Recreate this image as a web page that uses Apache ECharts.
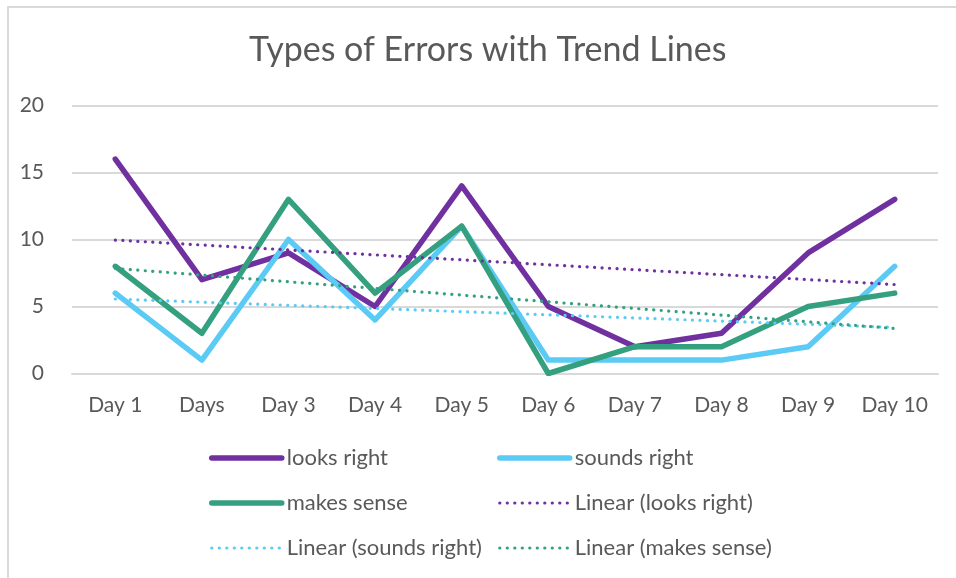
<!DOCTYPE html>
<html>
<head>
<meta charset="utf-8">
<script src="https://cdn.jsdelivr.net/npm/echarts@6/dist/echarts.min.js"></script>
<style>
html,body{margin:0;padding:0;background:#fff;}
#chart{width:956px;height:578px;}
</style>
</head>
<body>
<div id="chart"></div>
<script>
const categories = ['Day 1', 'Days', 'Day 3', 'Day 4', 'Day 5', 'Day 6', 'Day 7', 'Day 8', 'Day 9', 'Day 10'];
const looksRight = [16, 7, 9, 5, 14, 5, 2, 3, 9, 13];
const soundsRight = [6, 1, 10, 4, 11, 1, 1, 1, 2, 8];
const makesSense = [8, 3, 13, 6, 11, 0, 2, 2, 5, 6];
// trend line end points (Day 1, Day 10)
const trendLooksRight = [9.96, 6.64];
const trendSoundsRight = [5.56, 3.44];
const trendMakesSense = [7.84, 3.36];
const yTicks = [0, 5, 10, 15, 20];

const cPurple = '#7030A0', cBlue = '#5BCBF5', cGreen = '#34A07F';
const font = 'Lato, "Open Sans", "Liberation Sans", sans-serif';
const txt = '#595959';
const solidW = 5.5, dotW = 3.2, dotPattern = [0.1, 7.4];

function trendData(pair) {
  return [[categories[0], pair[0]], [categories[categories.length - 1], pair[1]]];
}
function solid(name, data, color) {
  return { name, type: 'line', data, symbol: 'none', color,
    lineStyle: { color, width: solidW, cap: 'round', join: 'round' } };
}
function dotted(name, data, color) {
  return { name, type: 'line', data, symbol: 'none', color,
    lineStyle: { color, width: dotW, type: dotPattern, cap: 'round' } };
}
function legItem(name, color, isDot) {
  return { name, itemStyle: { opacity: 0 },
    lineStyle: isDot ? { color, width: dotW, type: dotPattern, cap: 'round' }
                     : { color, width: solidW, cap: 'round' } };
}
const legendText = { fontFamily: font, fontSize: 22, color: txt, lineHeight: 24 };

const chart = echarts.init(document.getElementById('chart'), null, { renderer: 'canvas' });
chart.setOption({
  animation: false,
  backgroundColor: '#fff',
  graphic: [{ type: 'rect', shape: { x: 8, y: 7, width: 1000, height: 1000 },
    style: { fill: 'none', stroke: '#d9d9d9', lineWidth: 2 }, silent: true, z: -10 }],
  title: { text: 'Types of Errors with Trend Lines', left: 249, top: 33, padding: 0,
    textStyle: { fontFamily: font, fontSize: 34, fontWeight: 'normal', color: txt } },
  grid: { left: 72, right: 18, top: 105.5, bottom: 204.5, containLabel: false },
  legend: [
    { orient: 'vertical', left: 209, top: 446, padding: 0, itemWidth: 70, itemHeight: 24, itemGap: 21,
      itemStyle: { opacity: 0 },
      data: [legItem('looks right', cPurple), legItem('makes sense', cGreen), legItem('Linear (sounds right)', cBlue, true)],
      textStyle: legendText },
    { orient: 'vertical', left: 497, top: 446, padding: 0, itemWidth: 70, itemHeight: 24, itemGap: 21,
      itemStyle: { opacity: 0 },
      data: [legItem('sounds right', cBlue), legItem('Linear (looks right)', cPurple, true), legItem('Linear (makes sense)', cGreen, true)],
      textStyle: legendText }
  ],
  xAxis: { type: 'category', data: categories, boundaryGap: true,
    axisLine: { lineStyle: { color: '#d9d9d9', width: 2 } }, axisTick: { show: false },
    axisLabel: { fontFamily: font, fontSize: 21, color: txt, margin: 21, interval: 0 } },
  yAxis: { type: 'value', min: yTicks[0], max: yTicks[yTicks.length - 1], interval: 5,
    axisLine: { show: false }, axisTick: { show: false },
    splitLine: { lineStyle: { color: '#d9d9d9', width: 2 } },
    axisLabel: { fontFamily: font, fontSize: 21, color: txt, margin: 23, padding: [0, 5, 0, 0] } },
  series: [
    solid('looks right', looksRight, cPurple),
    solid('sounds right', soundsRight, cBlue),
    solid('makes sense', makesSense, cGreen),
    dotted('Linear (looks right)', trendData(trendLooksRight), cPurple),
    dotted('Linear (sounds right)', trendData(trendSoundsRight), cBlue),
    dotted('Linear (makes sense)', trendData(trendMakesSense), cGreen)
  ]
});
</script>
</body>
</html>
